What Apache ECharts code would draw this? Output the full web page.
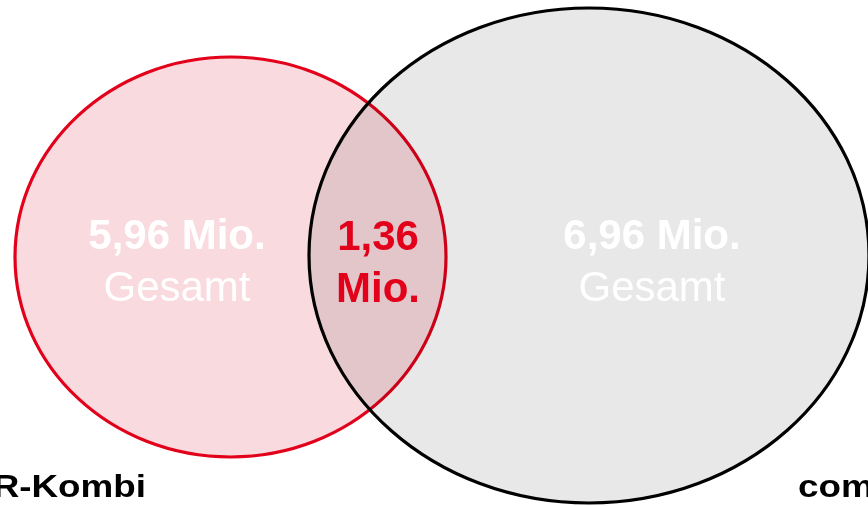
<!DOCTYPE html>
<html>
<head>
<meta charset="utf-8">
<script src="https://cdn.jsdelivr.net/npm/echarts@6/dist/echarts.min.js"></script>
<style>
  html, body { margin: 0; padding: 0; background: #ffffff; }
  #chart { width: 868px; height: 506px; }
</style>
</head>
<body>
<div id="chart"></div>
<script>
// ---- Data ----
const setNames = ['R-Kombi', 'com'];
const setTotals = [5.96, 6.96];          // Mio.
const overlapTotal = 1.36;               // Mio.
const totalCaption = 'Gesamt';
const unitLabel = 'Mio.';

// ---- Layout (axis units = pixels of the 868x506 canvas) ----
const layout = {
  ellipses: [
    { cx: 230.5, cy: 257, rx: 215.5, ry: 200 },
    { cx: 589, cy: 255.5, rx: 280, ry: 247.5 }
  ],
  valueLabels: [ { x: 177, y: 237 }, { x: 652, y: 237 } ],
  overlapLabel: { x: 378, y: 238 },
  lineGap: 52,
  nameLabels: [ { x: 146, y: 488, align: 'right' }, { x: 798, y: 488, align: 'left' } ]
};
const styles = {
  fills: ['#f9dade', 'rgba(0,0,0,0.09)'],
  strokes: ['#e2001a', '#000000'],
  red: '#e2001a',
  font: '"Liberation Sans", Arial, Helvetica, sans-serif',
  nameScaleX: 1.15
};

function fmt(v) { return v.toFixed(2).replace('.', ','); }

const seriesData = setTotals.map((v, i) => ({ name: setNames[i], value: [i, v] }));
seriesData.push({ name: 'overlap', value: [2, overlapTotal] });

const chart = echarts.init(document.getElementById('chart'), null, { renderer: 'canvas' });
chart.setOption({
  animation: false,
  backgroundColor: '#ffffff',
  grid: { left: 0, right: 0, top: 0, bottom: 0 },
  xAxis: { type: 'value', min: 0, max: 868, show: false },
  yAxis: { type: 'value', min: 0, max: 506, inverse: true, show: false },
  series: [{
    type: 'custom',
    coordinateSystem: 'cartesian2d',
    data: seriesData,
    renderItem: function (params, api) {
      const idx = api.value(0);
      const val = api.value(1);
      const children = [];
      if (idx < 2) {
        const e = layout.ellipses[idx];
        const c = api.coord([e.cx, e.cy]);
        const s = api.size([e.rx, e.ry]);
        children.push({
          type: 'ellipse',
          shape: { cx: c[0], cy: c[1], rx: s[0], ry: s[1] },
          style: { fill: styles.fills[idx], stroke: styles.strokes[idx], lineWidth: 3.2 }
        });
        const lp = layout.valueLabels[idx];
        const p1 = api.coord([lp.x, lp.y]);
        const p2 = api.coord([lp.x, lp.y + layout.lineGap]);
        children.push({
          type: 'text', z2: 10,
          style: { text: fmt(val) + ' ' + unitLabel, x: p1[0], y: p1[1], align: 'center', verticalAlign: 'middle',
                   fill: '#ffffff', font: 'bold 42px ' + styles.font }
        });
        children.push({
          type: 'text', z2: 10,
          style: { text: totalCaption, x: p2[0], y: p2[1], align: 'center', verticalAlign: 'middle',
                   fill: '#ffffff', font: '42px ' + styles.font }
        });
        const np = layout.nameLabels[idx];
        const pn = api.coord([np.x, np.y]);
        children.push({
          type: 'text', z2: 10,
          x: pn[0], y: pn[1], scaleX: styles.nameScaleX, scaleY: 1,
          style: { text: setNames[idx], x: 0, y: 0, align: np.align, verticalAlign: 'middle',
                   fill: '#000000', font: 'bold 32px ' + styles.font }
        });
      } else {
        const lp = layout.overlapLabel;
        const p1 = api.coord([lp.x, lp.y]);
        const p2 = api.coord([lp.x, lp.y + layout.lineGap]);
        children.push({
          type: 'text', z2: 10,
          style: { text: fmt(val), x: p1[0], y: p1[1], align: 'center', verticalAlign: 'middle',
                   fill: styles.red, font: 'bold 42px ' + styles.font }
        });
        children.push({
          type: 'text', z2: 10,
          style: { text: unitLabel, x: p2[0], y: p2[1], align: 'center', verticalAlign: 'middle',
                   fill: styles.red, font: 'bold 42px ' + styles.font }
        });
      }
      return { type: 'group', children: children };
    }
  }]
});
</script>
</body>
</html>
